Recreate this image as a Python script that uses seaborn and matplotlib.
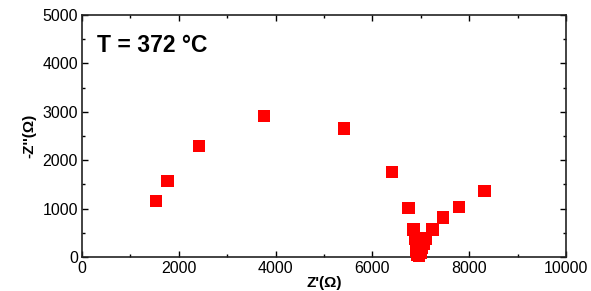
import matplotlib
matplotlib.use("Agg")
import matplotlib.pyplot as plt
import pandas as pd
import seaborn as sns
from matplotlib.ticker import MultipleLocator

# Nyquist data (ohm)
z_real = [1532, 1767, 2412, 3759, 5408, 6406, 6742, 6845, 6875, 6895, 6915,
          6935, 6960, 6990, 7030, 7070, 7107, 7244, 7464, 7794, 8316]
z_imag = [1153, 1567, 2298, 2913, 2658, 1754, 1008, 567, 380, 240, 120,
          40, 15, 80, 180, 270, 381, 567, 816, 1036, 1360]
label_text = "T = 372 °C"

df = pd.DataFrame({"zr": z_real, "zi": z_imag})

sns.set_style("ticks")
plt.rcParams["font.family"] = ["Liberation Sans", "DejaVu Sans"]
plt.rcParams["text.color"] = "black"
plt.rcParams["axes.labelcolor"] = "black"

fig = plt.figure(figsize=(5.91, 2.91), dpi=100)
ax = fig.add_axes([82 / 591, 34 / 291, 484 / 591, 242 / 291])

sns.scatterplot(data=df, x="zr", y="zi", marker="s", s=80, color="#ff0000",
                edgecolor="none", ax=ax, zorder=3, clip_on=False)

ax.set_xlim(0, 10000)
ax.set_ylim(0, 5000)
ax.xaxis.set_major_locator(MultipleLocator(2000))
ax.xaxis.set_minor_locator(MultipleLocator(1000))
ax.yaxis.set_major_locator(MultipleLocator(1000))
ax.yaxis.set_minor_locator(MultipleLocator(500))
ax.tick_params(which="both", direction="in", top=True, right=True,
               labelsize=11.5, width=1, colors="black")
ax.tick_params(which="major", length=4, pad=3)
ax.tick_params(which="minor", length=2.5)
for sp in ax.spines.values():
    sp.set_linewidth(1.2)
    sp.set_color("#222222")

ax.set_xlabel("Z'(\u03a9)", fontsize=11, fontweight="bold", labelpad=0)
ax.set_ylabel("-Z''(\u03a9)", fontsize=11, fontweight="bold", labelpad=4)
ax.text(0.03, 0.875, label_text, transform=ax.transAxes, fontsize=16.5,
        fontweight="bold", va="center", ha="left")

fig.savefig("out.png", dpi=100)
plt.close(fig)
